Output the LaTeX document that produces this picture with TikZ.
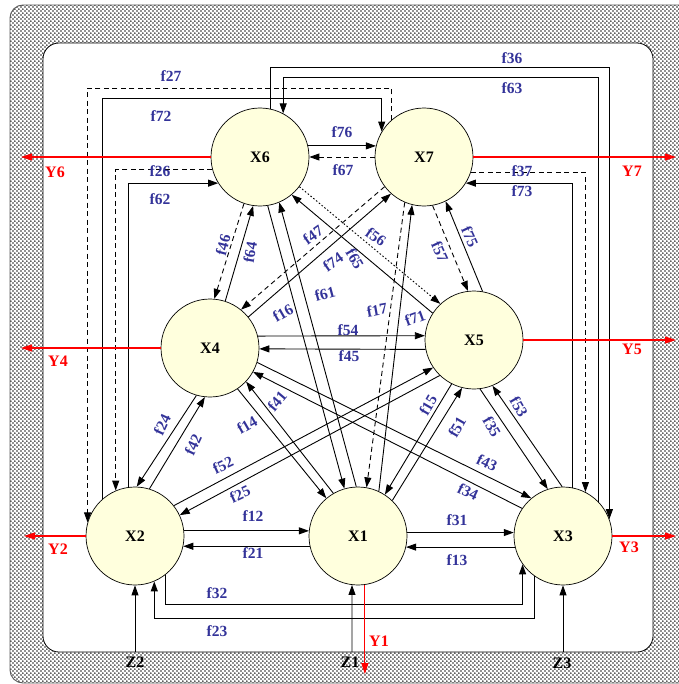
\documentclass[tikz,border=0pt]{standalone}
\usepackage{fontspec}
\setmainfont{Liberation Serif}
\usetikzlibrary{arrows.meta,patterns.meta}
\definecolor{lblue}{RGB}{51,51,153}
\definecolor{nodefill}{RGB}{255,255,221}
\tikzdeclarepattern{
  name=framedots,
  type=uncolored,
  bounding box={(0,0) and (4.4bp,4.4bp)},
  tile size={(4.4bp,4.4bp)},
  code={
    \fill (1.1bp,1.1bp) circle (1.0bp);
    \fill (3.3bp,3.3bp) circle (1.0bp);
  }
}
\tikzset{
  xnode/.style={circle, draw=black, line width=0.7bp, fill=nodefill, minimum size=98bp, inner sep=0pt, font=\fontsize{16bp}{18bp}\selectfont\bfseries},
  conn/.style={draw=black, line width=0.9bp},
  arr/.style={conn, -{Triangle[length=10bp,width=7bp]}},
  dsh/.style={dash pattern=on 5bp off 3.5bp},
  dotln/.style={dash pattern=on 1.6bp off 2bp},
  lab/.style={text=lblue, font=\fontsize{15.5bp}{17bp}\selectfont\bfseries, inner sep=0pt},
  outarr/.style={draw=red, line width=1.1bp, -{Triangle[length=11bp,width=7bp]}},
  outlab/.style={text=red, font=\fontsize{16bp}{18bp}\selectfont\bfseries, inner sep=0pt},
  inlab/.style={text=black, font=\fontsize{16bp}{18bp}\selectfont\bfseries, inner sep=0pt},
}
\begin{document}
\begin{tikzpicture}[x=1bp,y=-1bp]
\useasboundingbox (0,0) rectangle (679,684);
% frame
\begin{scope}
\clip (0,0) rectangle (679,684);
\fill[white] (0,0) rectangle (679,684);
\draw[draw=black!65, line width=0.9bp, pattern=framedots, pattern color=black!85, rounded corners=13bp] (10,5) rectangle (700,683);
\end{scope}
\draw[black, line width=0.8bp, fill=white, rounded corners=16bp] (43,43) rectangle (653,652);

% nodes
\node[xnode] (X6) at (260,157) {X6};
\node[xnode] (X7) at (424,157) {X7};
\node[xnode] (X4) at (210,348) {X4};
\node[xnode] (X5) at (474,340) {X5};
\node[xnode] (X2) at (135,536) {X2};
\node[xnode] (X1) at (358,536) {X1};
\node[xnode] (X3) at (563,536) {X3};

% outer loops
\draw[arr] (X6.78) |- (X3.20 |- 0,67) -- (X3.20);
\draw[arr] (X3.44) |- (X6.62 |- 0,77) -- (X6.62);
\draw[arr,dsh] (X7.131) |- (X2.164 |- 0,88) -- (X2.164);
\draw[arr] (X2.132) |- (X7.149 |- 0,98) -- (X7.149);
\draw[arr,dsh] (X6.195) -| (X2.113);
\draw[arr] (X2.98) |- (X6.212);
\draw[arr,dsh] (X7.-18) -| (X3.63);
\draw[arr] (X3.79) |- (X7.-32);
\draw[arr] (X2.-52) |- (X3.-145 |- 0,604) -- (X3.-145);
\draw[arr] (X3.-126) |- (X2.-67 |- 0,618) -- (X2.-67);

% horizontal pairs
\draw[arr] (X2.6) -- (X1.174);
\draw[arr] (X1.-168) -- (X2.-12);
\draw[arr] (X1.4) -- (X3.176);
\draw[arr] (X3.-167) -- (X1.-13);
\draw[arr] (X4.14) -- (X5.175);
\draw[arr] (X5.-169) -- (X4.-1);
\draw[arr] (X6.13) -- (X7.167);
\draw[arr,dsh] (X7.west) -- (X6.east);

% diagonals
\draw[arr,dsh] (X6.-109) -- (X4.85);
\draw[arr] (X4.72) -- (X6.-98);
\draw[arr,dsh] (X7.-143) -- (X4.51);
\draw[arr] (X4.39) -- (X7.-132);
\draw[arr] (X6.-81) -- (X1.106);
\draw[arr] (X1.92) -- (X6.-67);
\draw[arr,dsh] (X7.-113) -- (X1.80);
\draw[arr] (X1.65) -- (X7.-104);
\draw[arr,dotln] (X6.-37) -- (X5.133);
\draw[arr] (X5.147) -- (X6.-50);
\draw[arr,dsh] (X7.-80) -- (X5.97);
\draw[arr] (X5.80) -- (X7.-64);
\draw[arr] (X4.-106) -- (X2.88);
\draw[arr] (X2.73) -- (X4.-96);
\draw[arr] (X4.-56) -- (X1.130);
\draw[arr] (X1.120) -- (X4.-43);
\draw[arr] (X2.38) -- (X5.-146);
\draw[arr] (X5.-134) -- (X2.25);
\draw[arr] (X5.-117) -- (X1.57);
\draw[arr] (X1.46) -- (X5.-104);
\draw[arr] (X5.-83) -- (X3.108);
\draw[arr] (X3.91) -- (X5.-68);
\draw[arr] (X4.-17) -- (X3.130);
\draw[arr] (X3.146) -- (X4.-29);

% outputs
\coordinate (y6e) at (21,157);
\coordinate (y7e) at (676,157);
\coordinate (y4e) at (21,348);
\coordinate (y5e) at (676,340);
\coordinate (y2e) at (24,536);
\coordinate (y3e) at (676,536);
\coordinate (y1e) at (365,674);
\draw[outarr] (X6.west) -- (y6e);
\draw[outarr] (X7.east) -- (y7e);
\draw[outarr] (X4.west) -- (y4e);
\draw[outarr] (X5.east) -- (y5e);
\draw[outarr] (X2.west) -- (y2e);
\draw[outarr] (X3.east) -- (y3e);
\draw[outarr] (X1.-82) -- (X1.-82 |- y1e);
\node[outlab] (Y6) at (55,172) {Y6};
\node[outlab] (Y7) at (632,171) {Y7};
\node[outlab] (Y4) at (58,361) {Y4};
\node[outlab] (Y5) at (632,349) {Y5};
\node[outlab] (Y2) at (58,549) {Y2};
\node[outlab] (Y3) at (629,547) {Y3};
\node[outlab] (Y1) at (379,641) {Y1};

% inputs
\coordinate (z2s) at (135,652);
\coordinate (z1s) at (352,652);
\coordinate (z3s) at (563,652);
\draw[arr] (z2s) -- (X2.south);
\draw[arr] (z1s) -- (X1.-97);
\draw[arr] (z3s) -- (X3.south);
\node[inlab] (Z2) at (135,662) {Z2};
\node[inlab] (Z1) at (350,662) {Z1};
\node[inlab] (Z3) at (562,663) {Z3};

% labels
\node[lab] (l36) at (512,58) {f36};
\node[lab] (l63) at (512,88) {f63};
\node[lab] (l27) at (171,76) {f27};
\node[lab] (l72) at (161,116) {f72};
\node[lab] (l26) at (160,171) {f26};
\node[lab] (l62) at (160,199) {f62};
\node[lab] (l37) at (522,171) {f37};
\node[lab] (l73) at (522,191) {f73};
\node[lab] (l76) at (342,132) {f76};
\node[lab] (l67) at (343,170) {f67};
\node[lab,rotate=75] (l46) at (223,245) {f46};
\node[lab,rotate=80] (l64) at (250,252) {f64};
\node[lab,rotate=35] (l47) at (313,235) {f47};
\node[lab,rotate=35] (l74) at (333,262) {f74};
\node[lab,rotate=-35] (l56) at (376,237) {f56};
\node[lab,rotate=-60] (l65) at (355,259) {f65};
\node[lab,rotate=-65] (l57) at (440,252) {f57};
\node[lab,rotate=-65] (l75) at (470,237) {f75};
\node[lab,rotate=30] (l16) at (283,313) {f16};
\node[lab,rotate=15] (l61) at (325,294) {f61};
\node[lab,rotate=10] (l17) at (377,310) {f17};
\node[lab,rotate=20] (l71) at (415,318) {f71};
\node[lab] (l54) at (348,330) {f54};
\node[lab] (l45) at (349,356) {f45};
\node[lab,rotate=65] (l24) at (162,425) {f24};
\node[lab,rotate=65] (l42) at (193,445) {f42};
\node[lab,rotate=30] (l14) at (247,425) {f14};
\node[lab,rotate=50] (l41) at (277,401) {f41};
\node[lab,rotate=25] (l52) at (223,465) {f52};
\node[lab,rotate=25] (l25) at (240,494) {f25};
\node[lab,rotate=60] (l15) at (428,405) {f15};
\node[lab,rotate=60] (l51) at (457,427) {f51};
\node[lab,rotate=-60] (l35) at (492,427) {f35};
\node[lab,rotate=-60] (l53) at (519,407) {f53};
\node[lab,rotate=-25] (l43) at (487,463) {f43};
\node[lab,rotate=-25] (l34) at (468,492) {f34};
\node[lab] (l12) at (253,516) {f12};
\node[lab] (l21) at (253,553) {f21};
\node[lab] (l31) at (457,520) {f31};
\node[lab] (l13) at (457,560) {f13};
\node[lab] (l32) at (217,593) {f32};
\node[lab] (l23) at (217,631) {f23};
\end{tikzpicture}
\end{document}
